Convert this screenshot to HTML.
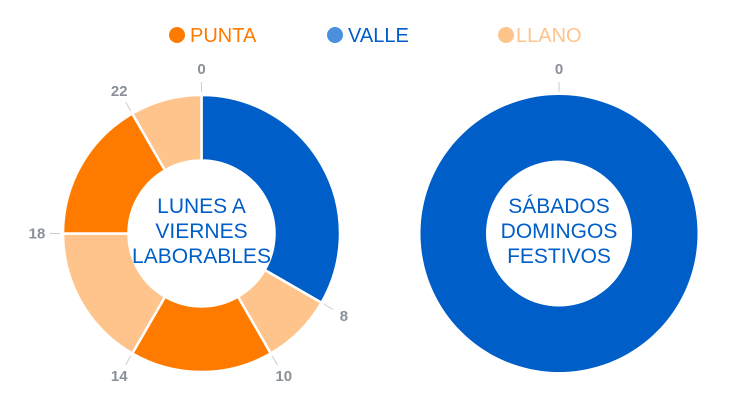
<!DOCTYPE html>
<html><head><meta charset="utf-8"><style>
body{margin:0;background:#fff;}
svg{display:block;font-family:"Liberation Sans","DejaVu Sans",sans-serif;}
</style></head><body>
<svg id="c" width="734" height="406">
<g>
<g><circle cx="177" cy="35" r="8" fill="#ff7b00"/><text x="190" y="42" font-size="20" fill="#ff7b00">PUNTA</text></g>
<g><circle cx="335" cy="35" r="8" fill="#4a90de"/><text x="348" y="42" font-size="20" fill="#005cc8">VALLE</text></g>
<g><circle cx="506" cy="35" r="8" fill="#ffc48c"/><text x="516" y="42" font-size="20" fill="#ffc48c">LLANO</text></g>
</g>
</svg>
<script>
const hoursWeekday=[0,8,10,14,18,22,24];
const typesWeekday=['valle','llano','punta','llano','punta','llano'];
const hoursWeekend=[0,24];
const typesWeekend=['valle'];
const colors={valle:'#005ec8',punta:'#ff7b00',llano:'#ffc48c'};
const svg=document.getElementById('c');
const NS='http://www.w3.org/2000/svg';
function pt(cx,cy,r,h){const a=h/24*2*Math.PI;return [cx+r*Math.sin(a),cy-r*Math.cos(a)];}
function donut(cx,cy,hours,types,lines,name){
  const R=138.5,r=73;
  const g=document.createElementNS(NS,'g');
  
  
  svg.appendChild(g);
  for(let i=0;i<types.length;i++){
    const h0=hours[i],h1=hours[i+1];
    let d;
    if(h1-h0>=24){
      d=`M${cx} ${cy-R}A${R} ${R} 0 1 1 ${cx-0.01} ${cy-R}Z M${cx} ${cy-r}A${r} ${r} 0 1 1 ${cx-0.01} ${cy-r}Z`;
    }else{
      const large=(h1-h0)>12?1:0;
      const a=pt(cx,cy,R,h0),b=pt(cx,cy,R,h1),c=pt(cx,cy,r,h1),e=pt(cx,cy,r,h0);
      d=`M${a}A${R} ${R} 0 ${large} 1 ${b}L${c}A${r} ${r} 0 ${large} 0 ${e}Z`;
    }
    const p=document.createElementNS(NS,'path');
    
    
    p.setAttribute('d',d);p.setAttribute('fill',colors[types[i]]);
    p.setAttribute('fill-rule','evenodd');
    if(h1-h0<24){p.setAttribute('stroke','#fff');p.setAttribute('stroke-width','2.5');}
    g.appendChild(p);
  }
  for(const h of lines){
    const a=pt(cx,cy,R+3,h),b=pt(cx,cy,R+13,h),t=pt(cx,cy,R+26,h);
    const l=document.createElementNS(NS,'line');
    
    
    l.setAttribute('x1',a[0]);l.setAttribute('y1',a[1]);l.setAttribute('x2',b[0]);l.setAttribute('y2',b[1]);
    l.setAttribute('stroke','#ccc');l.setAttribute('stroke-width','1');
    g.appendChild(l);
    const tx=document.createElementNS(NS,'text');
    
    
    tx.setAttribute('x',t[0]);tx.setAttribute('y',t[1]+5);
    tx.setAttribute('text-anchor','middle');tx.setAttribute('font-size','15');tx.setAttribute('font-weight','bold');tx.setAttribute('fill','#8a9099');
    tx.textContent=h;g.appendChild(tx);
  }
}
donut(201.5,233.5,hoursWeekday,typesWeekday,hoursWeekday.slice(0,-1),'donut-weekday');
donut(559,233.5,hoursWeekend,typesWeekend,[0],'donut-weekend');
function center(cx,lines,name){
  const tx=document.createElementNS(NS,'text');
  
  
  tx.setAttribute('text-anchor','middle');tx.setAttribute('font-size','21');tx.setAttribute('fill','#005ec8');
  lines.forEach((s,i)=>{const ts=document.createElementNS(NS,'tspan');ts.setAttribute('x',cx);ts.setAttribute('y',213+i*25);ts.textContent=s;tx.appendChild(ts);});
  svg.appendChild(tx);
}
center(201.5,['LUNES A','VIERNES','LABORABLES'],'center-label-weekday');
center(559,['SÁBADOS','DOMINGOS','FESTIVOS'],'center-label-weekend');
</script>
</body></html>
